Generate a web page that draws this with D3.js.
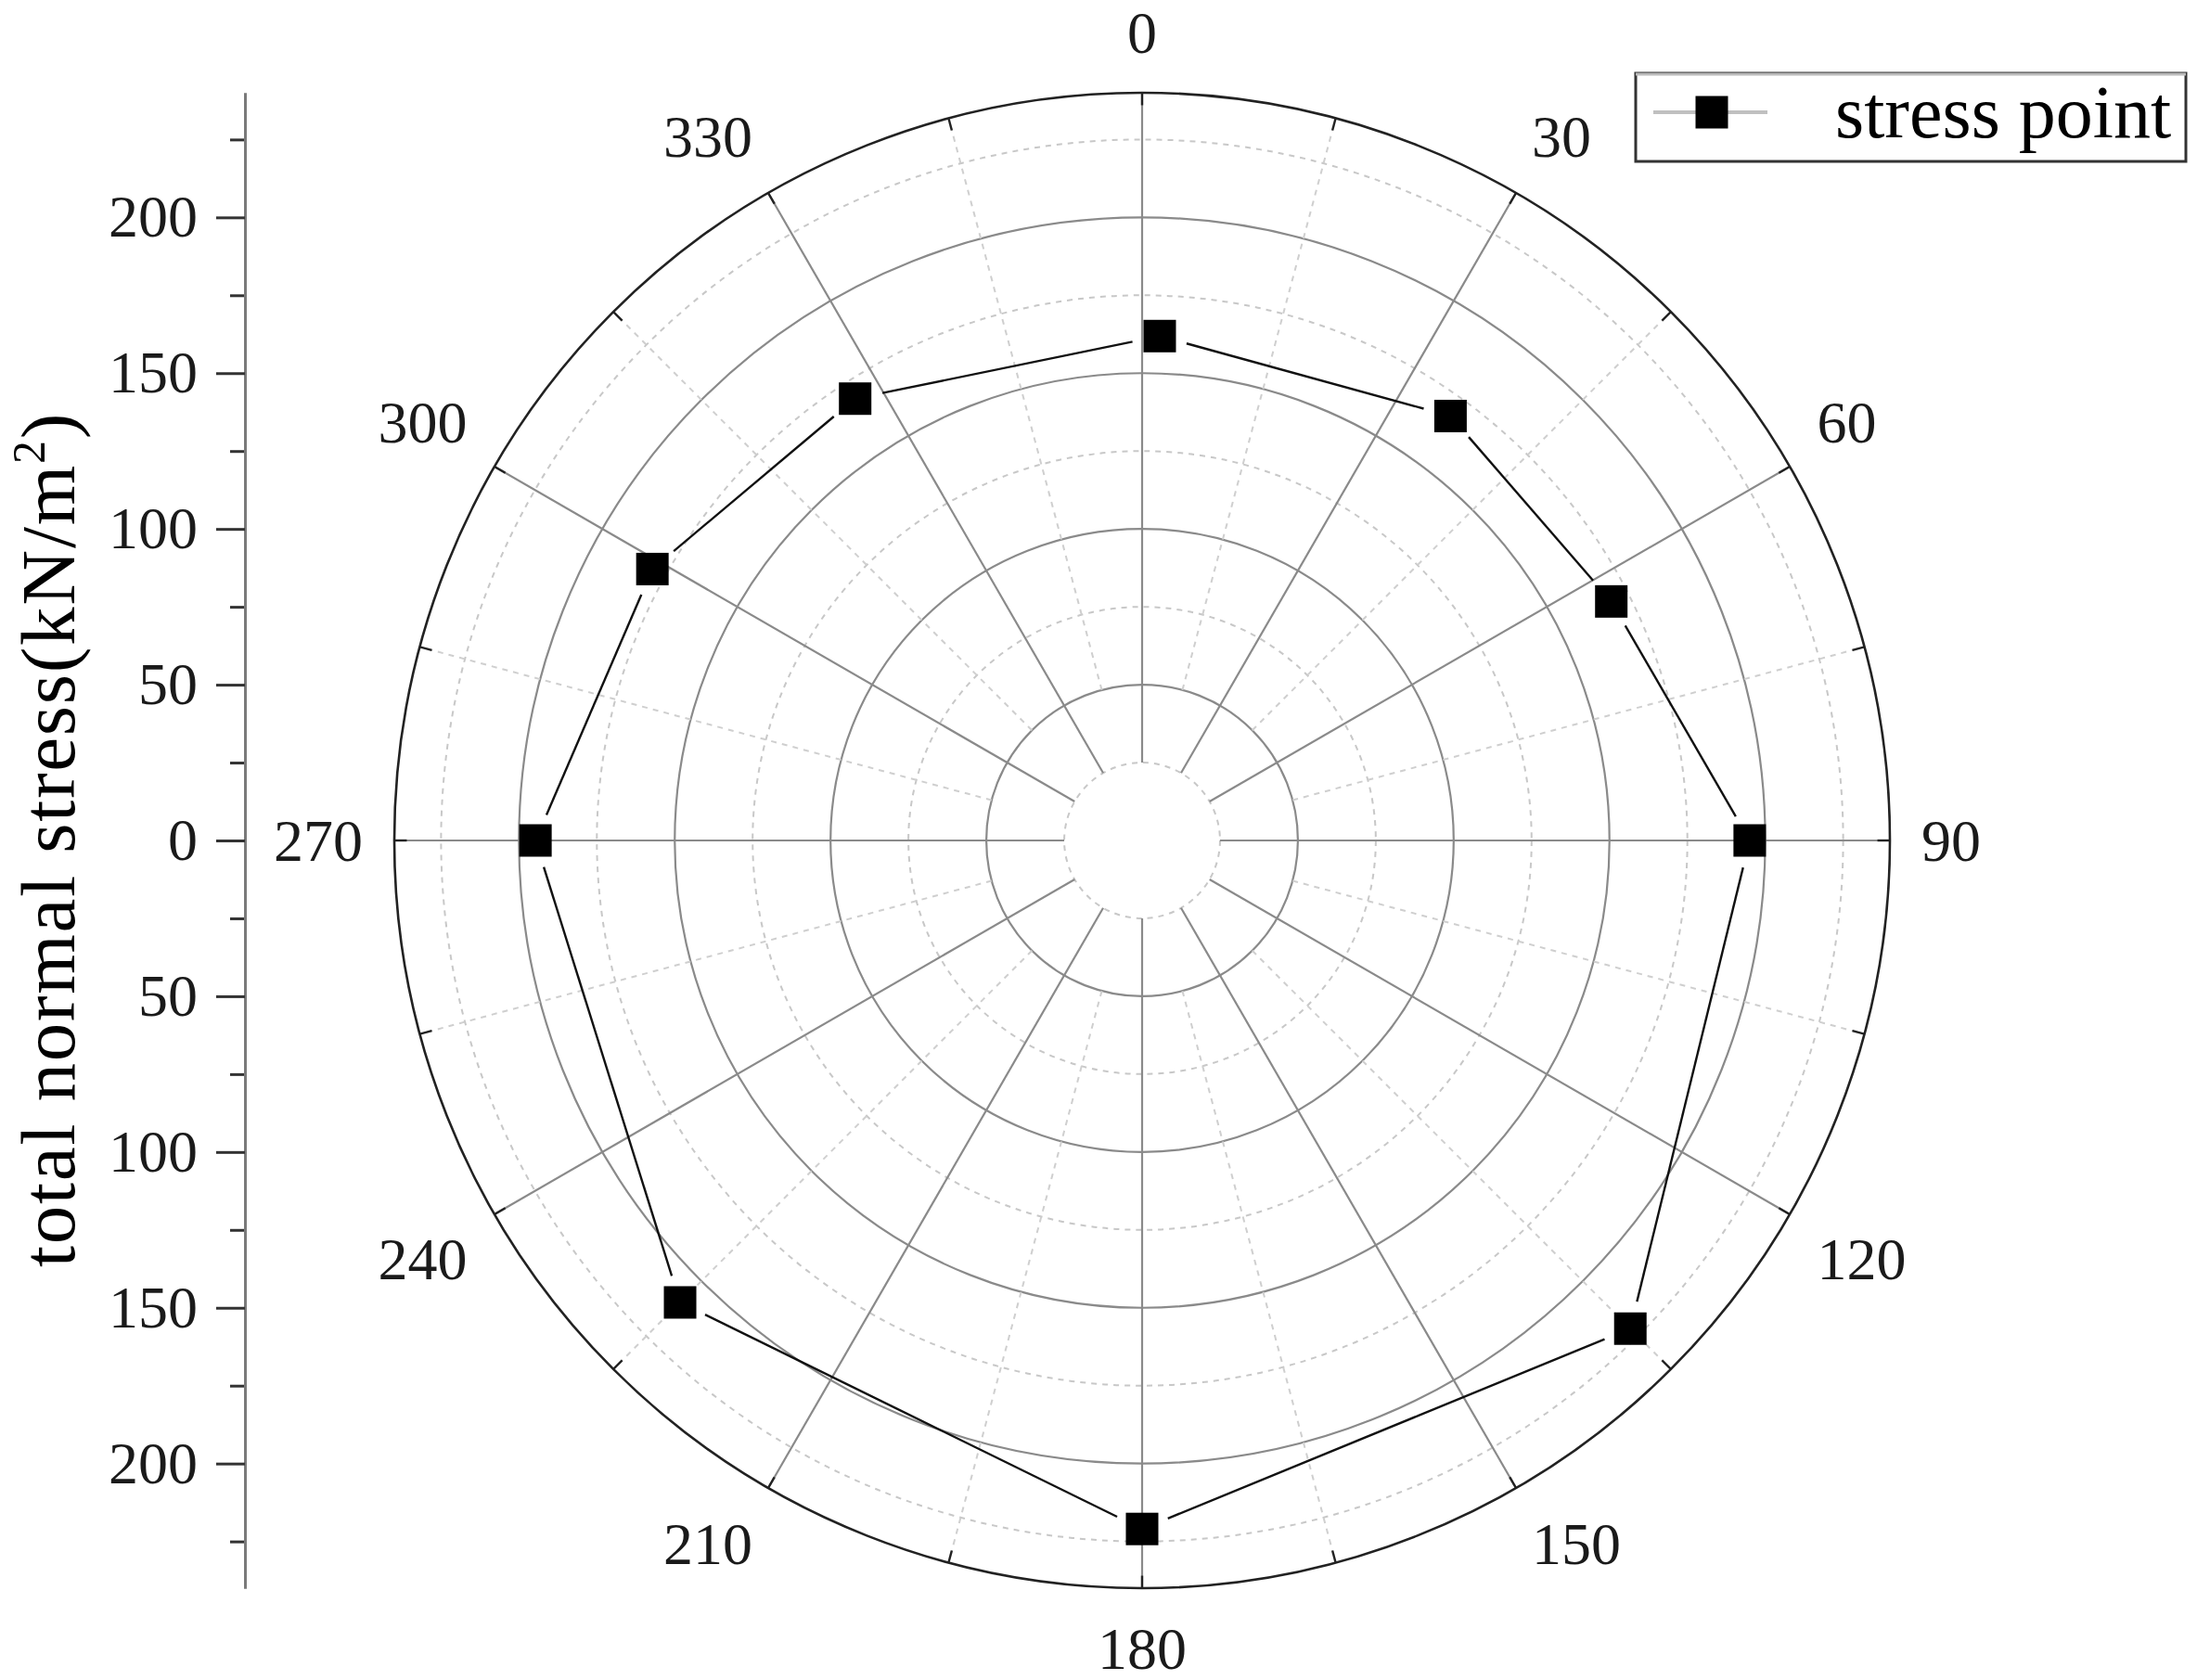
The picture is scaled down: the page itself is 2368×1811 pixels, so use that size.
<!DOCTYPE html>
<html>
<head>
<meta charset="utf-8">
<script src="https://cdn.jsdelivr.net/npm/d3@7"></script>
<style>
  html, body { margin: 0; padding: 0; background: #fff; }
  svg { display: block; }
  text { font-family: "Liberation Serif", "Times New Roman", serif; }
</style>
</head>
<body>
<svg id="chart" width="2368" height="1811"></svg>
<script>
// ---- data ----
const pointAngles = [2, 36, 63, 90, 135, 180, 225, 270, 299, 327];          // degrees, clockwise from top
const pointStress = [162, 168.4, 169, 195, 221.6, 221, 209.7, 194.7, 179.7, 169.1]; // kN/m^2
const angleTicks = [0, 30, 60, 90, 120, 150, 180, 210, 240, 270, 300, 330];
const angleTickLabels = ["0", "30", "60", "90", "120", "150", "180", "210", "240", "270", "300", "330"];
const minorAngleTicks = [15, 45, 75, 105, 135, 165, 195, 225, 255, 285, 315, 345];
const majorRadii = [50, 100, 150, 200];
const minorRadii = [25, 75, 125, 175, 225];
const axisMajorTicks = [-200, -150, -100, -50, 0, 50, 100, 150, 200];
const axisMinorTicks = [-225, -175, -125, -75, -25, 25, 75, 125, 175, 225];
const seriesName = "stress point";
const axisTitle = "total normal stress(kN/m";

// ---- layout ----
const cx = 1231, cy = 906, R = 806, rMax = 240;
const svg = d3.select("#chart");
const r = d3.scaleLinear().domain([0, rMax]).range([0, R]);
const toRad = d => d * Math.PI / 180;
const px = (a, v) => cx + r(v) * Math.sin(toRad(a));
const py = (a, v) => cy - r(v) * Math.cos(toRad(a));

const g = svg.append("g");

// minor (dotted) circles
g.selectAll("circle.minor").data(minorRadii).join("circle")
  .attr("cx", cx).attr("cy", cy).attr("r", d => r(d))
  .attr("fill", "none").attr("stroke", "#c8c8c8").attr("stroke-width", 2)
  .attr("stroke-dasharray", "6,6");

// major circles
g.selectAll("circle.major").data(majorRadii).join("circle")
  .attr("cx", cx).attr("cy", cy).attr("r", d => r(d))
  .attr("fill", "none").attr("stroke", "#8a8a8a").attr("stroke-width", 2.2);

// minor spokes (dotted)
g.selectAll("line.mspoke").data(minorAngleTicks).join("line")
  .attr("x1", d => px(d, 50)).attr("y1", d => py(d, 50))
  .attr("x2", d => px(d, rMax)).attr("y2", d => py(d, rMax))
  .attr("stroke", "#cfcfcf").attr("stroke-width", 2).attr("stroke-dasharray", "6,6");

// major spokes
g.selectAll("line.spoke").data(angleTicks).join("line")
  .attr("x1", d => px(d, 25)).attr("y1", d => py(d, 25))
  .attr("x2", d => px(d, rMax)).attr("y2", d => py(d, rMax))
  .attr("stroke", "#8a8a8a").attr("stroke-width", 2.2);

// outer circle
g.append("circle").attr("cx", cx).attr("cy", cy).attr("r", r(rMax))
  .attr("fill", "none").attr("stroke", "#222").attr("stroke-width", 2.6);

// ticks on outer circle (inward)
g.selectAll("line.otick").data(angleTicks.concat(minorAngleTicks)).join("line")
  .attr("x1", d => px(d, rMax)).attr("y1", d => py(d, rMax))
  .attr("x2", d => px(d, rMax - 4)).attr("y2", d => py(d, rMax - 4))
  .attr("stroke", "#222").attr("stroke-width", 2.4);

// angle labels
const angLab = g.selectAll("text.ang").data(angleTicks).join("text")
  .attr("font-size", 64).attr("fill", "#1a1a1a")
  .attr("text-anchor", "middle").attr("dominant-baseline", "central")
  .text((d, i) => angleTickLabels[i]);
const sgn = v => Math.abs(v) < 0.01 ? 0 : Math.sign(v);
angLab.each(function(d) {
  const w = this.getComputedTextLength();
  const s = Math.sin(toRad(d)), c = Math.cos(toRad(d));
  const D = 840;
  d3.select(this)
    .attr("x", cx + D * s + sgn(s) * w / 2)
    .attr("y", cy - D * c - sgn(c) * 31);
});

// data line (straight segments, with small gaps at the markers)
const pts = pointAngles.map((a, i) => [px(a, pointStress[i]), py(a, pointStress[i])]);
const segs = pts.map((p, i) => [p, pts[(i + 1) % pts.length]]);
const gap = 30;
g.selectAll("line.seg").data(segs).join("line")
  .each(function(s) {
    const [a, b] = s;
    const dx = b[0] - a[0], dy = b[1] - a[1], L = Math.hypot(dx, dy);
    const ux = dx / L, uy = dy / L;
    d3.select(this)
      .attr("x1", a[0] + ux * gap).attr("y1", a[1] + uy * gap)
      .attr("x2", b[0] - ux * gap).attr("y2", b[1] - uy * gap);
  })
  .attr("stroke", "#111").attr("stroke-width", 2.4);

// markers
const ms = 35;
g.selectAll("rect.pt").data(pts).join("rect")
  .attr("x", d => d[0] - ms / 2).attr("y", d => d[1] - ms / 2)
  .attr("width", ms).attr("height", ms).attr("fill", "#000");

// ---- left linear axis ----
const yScale = d3.scaleLinear().domain([rMax, -rMax]).range([cy - R, cy + R]);
const axisX = 264;
const minorAxis = d3.axisLeft(yScale).tickValues(axisMinorTicks).tickSize(16).tickSizeOuter(0).tickFormat("");
const majorAxis = d3.axisLeft(yScale).tickValues(axisMajorTicks).tickSize(31).tickSizeOuter(0)
  .tickPadding(20).tickFormat(d => String(Math.abs(d)));
const ga1 = svg.append("g").attr("transform", `translate(${axisX},0)`).call(minorAxis);
const ga2 = svg.append("g").attr("transform", `translate(${axisX},0)`).call(majorAxis);
[ga1, ga2].forEach(ga => {
  ga.select(".domain").attr("stroke", "#7a7a7a").attr("stroke-width", 3);
  ga.selectAll(".tick line").attr("stroke", "#333").attr("stroke-width", 3);
});
ga2.selectAll(".tick text")
  .attr("font-family", "Liberation Serif, Times New Roman, serif")
  .attr("font-size", 64).attr("fill", "#1a1a1a");

// axis title
const title = svg.append("text")
  .attr("transform", `translate(80,905) rotate(-90)`)
  .attr("text-anchor", "middle").attr("font-size", 83).attr("fill", "#000");
title.append("tspan").text(axisTitle);
title.append("tspan").attr("font-size", 50).attr("dy", -32).text("2");
title.append("tspan").attr("dy", 32).text(")");
{
  const len = title.node().getComputedTextLength();
  const nChars = axisTitle.length + 2;
  const target = 922;
  if (len < target) title.attr("letter-spacing", (target - len) / nChars);
}

// ---- legend ----
const lg = svg.append("g");
lg.append("rect").attr("x", 1763).attr("y", 79).attr("width", 593).attr("height", 95)
  .attr("fill", "#fff").attr("stroke", "#333").attr("stroke-width", 3);
lg.append("line").attr("x1", 1763).attr("x2", 2356).attr("y1", 80).attr("y2", 80)
  .attr("stroke", "#bbb").attr("stroke-width", 3);
lg.append("line").attr("x1", 1782).attr("x2", 1905).attr("y1", 121).attr("y2", 121)
  .attr("stroke", "#c0c0c0").attr("stroke-width", 4);
lg.append("rect").attr("x", 1845 - ms / 2).attr("y", 121 - ms / 2).attr("width", ms).attr("height", ms)
  .attr("fill", "#000");
lg.append("text").attr("x", 1978).attr("y", 121).attr("dominant-baseline", "central")
  .attr("font-size", 80).attr("fill", "#000").text(seriesName);
</script>
</body>
</html>
